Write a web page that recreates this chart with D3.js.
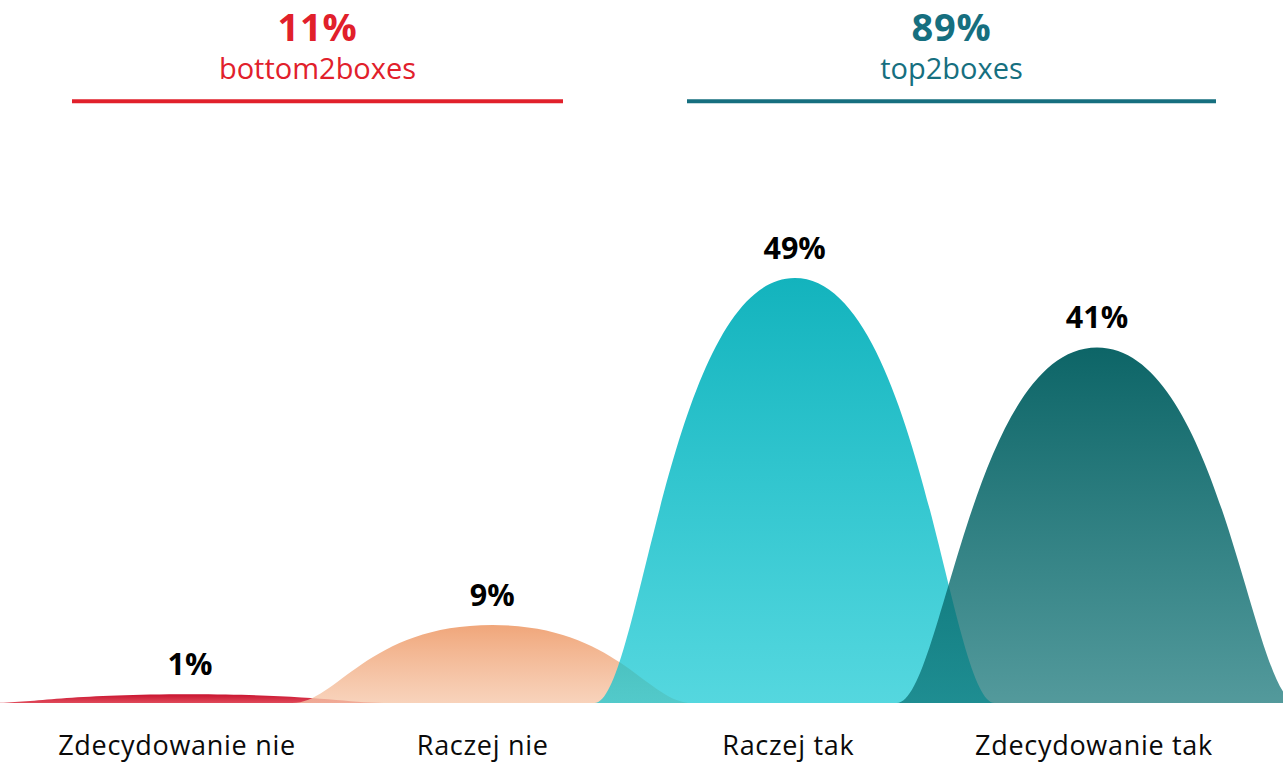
<!DOCTYPE html>
<html>
<head>
<meta charset="utf-8">
<script src="https://cdn.jsdelivr.net/npm/d3@7"></script>
<style>
  html, body { margin: 0; padding: 0; background: #ffffff; }
  svg { display: block; }
  text { font-family: "Open Sans", "Noto Sans", sans-serif; }
</style>
</head>
<body>
<svg id="chart" width="1283" height="763"></svg>
<script>
// ---- data ----
const categories = ["Zdecydowanie nie", "Raczej nie", "Raczej tak", "Zdecydowanie tak"];
const values = [1, 9, 49, 41];
const valueLabels = ["1%", "9%", "49%", "41%"];
const groupNames = ["bottom2boxes", "top2boxes"];
const groupValues = [11, 89];
const groupLabels = ["11%", "89%"];

// ---- styling ----
const W = 1283, H = 763;
const svg = d3.select("#chart");
const defs = svg.append("defs");

const gradients = [
  { top: "#c9132f", topOp: 1, bot: "#e04a5a", botOp: 1 },
  { top: "#f0a67a", topOp: 1, bot: "rgb(246,198,168)", botOp: 0.78 },
  { top: "#13b3bd", topOp: 1, bot: "rgb(12,198,209)", botOp: 0.7 },
  { top: "#0d6567", topOp: 1, bot: "rgb(6,108,111)", botOp: 0.69 }
];
const groupColors = ["#e1202b", "#166f7f"];

const x = d3.scalePoint().domain(categories).range([190, 1097]);
const xLabel = d3.scalePoint().domain(categories).range([177, 1094]);
const y = d3.scaleLinear().domain([0, 50]).range([703, 269.4]);
const hw = x.step() * 0.662;

gradients.forEach((g, i) => {
  const lg = defs.append("linearGradient")
    .attr("id", "grad" + i)
    .attr("gradientUnits", "userSpaceOnUse")
    .attr("x1", 0).attr("x2", 0)
    .attr("y1", y(values[i])).attr("y2", y(0));
  lg.append("stop").attr("offset", "0%").attr("stop-color", g.top).attr("stop-opacity", g.topOp);
  lg.append("stop").attr("offset", "100%").attr("stop-color", g.bot).attr("stop-opacity", g.botOp);
});

function bell(cat, v) {
  const cx = x(cat), yb = y(0), yp = y(v);
  const a = hw * 0.225, b = hw * 0.625;
  const p = d3.path();
  p.moveTo(cx - hw, yb);
  p.bezierCurveTo(cx - hw + a, yb, cx - b, yp, cx, yp);
  p.bezierCurveTo(cx + b, yp, cx + hw - a, yb, cx + hw, yb);
  p.closePath();
  return p.toString();
}

// shapes
svg.append("g").selectAll("path")
  .data(categories)
  .join("path")
  .attr("d", (c, i) => bell(c, values[i]))
  .attr("fill", (c, i) => `url(#grad${i})`);

// value labels
svg.append("g").selectAll("text")
  .data(categories)
  .join("text")
  .attr("x", c => x(c))
  .attr("y", (c, i) => y(values[i]) - 19)
  .attr("text-anchor", "middle")
  .attr("font-size", 30.5)
  .attr("font-weight", 700)
  .attr("fill", "#000")
  .text((c, i) => valueLabels[i]);

// category labels
svg.append("g").selectAll("text")
  .data(categories)
  .join("text")
  .attr("x", c => xLabel(c))
  .attr("y", 755)
  .attr("text-anchor", "middle")
  .attr("font-size", 27)
  .attr("letter-spacing", 0.7)
  .attr("fill", "#0a0a0a")
  .text(c => c);

// group headers
const groupX = d3.scalePoint().domain(groupNames).range([317.5, 951.5]);
const lineHalf = [245.5, 264.5];
const hg = svg.append("g").selectAll("g").data(groupNames).join("g");
hg.append("text")
  .attr("x", g => groupX(g)).attr("y", 41)
  .attr("text-anchor", "middle")
  .attr("font-size", 38).attr("font-weight", 700)
  .attr("letter-spacing", 0.8)
  .attr("fill", (g, i) => groupColors[i])
  .text((g, i) => groupLabels[i]);
hg.append("text")
  .attr("x", g => groupX(g)).attr("y", 79)
  .attr("text-anchor", "middle")
  .attr("font-size", 29)
  .attr("fill", (g, i) => groupColors[i])
  .text(g => g);
hg.append("line")
  .attr("x1", (g, i) => groupX(g) - lineHalf[i])
  .attr("x2", (g, i) => groupX(g) + lineHalf[i])
  .attr("y1", 101.3).attr("y2", 101.3)
  .attr("stroke", (g, i) => groupColors[i])
  .attr("stroke-width", 4);
</script>
</body>
</html>
